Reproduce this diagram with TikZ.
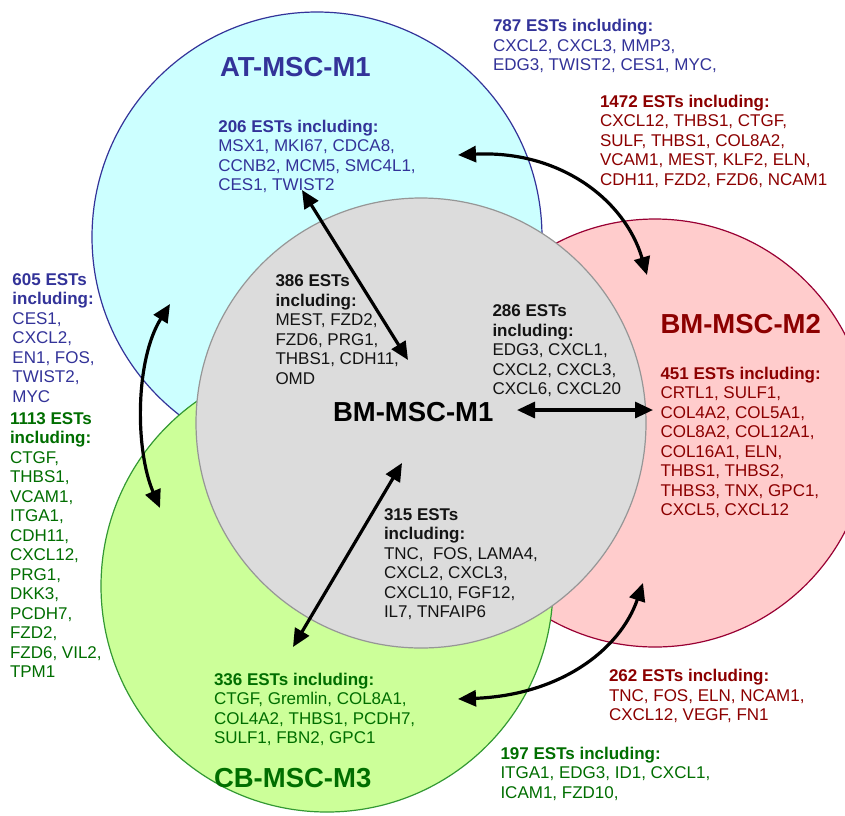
\documentclass[tikz,border=0pt]{standalone}
\usepackage{fontspec}
\setmainfont{Liberation Sans}
\usetikzlibrary{arrows.meta}
\definecolor{cyanfill}{RGB}{204,255,255}
\definecolor{cyanline}{RGB}{51,51,153}
\definecolor{pinkfill}{RGB}{255,204,204}
\definecolor{pinkline}{RGB}{153,0,51}
\definecolor{greenfill}{RGB}{204,255,153}
\definecolor{greenline}{RGB}{51,153,51}
\definecolor{grayfill}{RGB}{220,220,220}
\definecolor{grayline}{RGB}{150,150,150}
\definecolor{bluetxt}{RGB}{51,51,153}
\definecolor{redtxt}{RGB}{140,0,0}
\definecolor{greentxt}{RGB}{0,110,0}
\definecolor{blacktxt}{RGB}{20,20,20}
\newcommand{\fl}{\rule{0pt}{14pt}}
\begin{document}
\begin{tikzpicture}[x=1pt,y=-1pt,
  setcircle/.style={circle, inner sep=0pt, outer sep=0pt, line width=1.2pt},
  lbl/.style={anchor=north west, inner sep=0pt, outer sep=0pt, align=left,
              font=\fontsize{17}{19.5}\selectfont},
  bigtitle/.style={anchor=base west, inner sep=0pt, outer sep=0pt,
              font=\fontsize{27.5}{30}\selectfont\bfseries},
  dbl/.style={{Triangle[length=18pt,width=16pt]}-{Triangle[length=18pt,width=16pt]}, line width=3.2pt, black}
]
\useasboundingbox (0,0) rectangle (845,815);
\fill[white] (0,0) rectangle (845,815);
\begin{scope}
\clip (0,0) rectangle (845,815);
\node[setcircle, draw=cyanline, fill=cyanfill, minimum size=450pt] (atc) at (317,237) {};
\node[setcircle, draw=pinkline, fill=pinkfill, minimum size=428pt] (bm2c) at (655,433) {};
\node[setcircle, draw=greenline, fill=greenfill, minimum size=452pt] (cbc) at (327,586) {};
\node[setcircle, draw=grayline, fill=grayfill, minimum size=450pt] (bm1c) at (421,423) {};
\end{scope}

% titles
\node[bigtitle, text=bluetxt] (tat) at (220,76) {AT-MSC-M1};
\node[bigtitle, text=redtxt] (tbm2) at (660.5,333.5) {BM-MSC-M2};
\node[bigtitle, text=black] (tbm1) at (333,421.5) {BM-MSC-M1};
\node[bigtitle, text=greentxt] (tcb) at (214,787.5) {CB-MSC-M3};

% EST blocks (y = first baseline - 14)
\node[lbl, text=bluetxt] (l787) at (493,17.7) {\fl\textbf{787 ESTs including:}\\CXCL2, CXCL3, MMP3,\\EDG3, TWIST2, CES1, MYC,};
\node[lbl, text=redtxt] (l1472) at (600,93.3) {\fl\textbf{1472 ESTs including:}\\CXCL12, THBS1, CTGF,\\SULF, THBS1, COL8A2,\\VCAM1, MEST, KLF2, ELN,\\CDH11, FZD2, FZD6, NCAM1};
\node[lbl, text=bluetxt] (l206) at (218.3,118.3) {\fl\textbf{206 ESTs including:}\\MSX1, MKI67, CDCA8,\\CCNB2, MCM5, SMC4L1,\\CES1, TWIST2};
\node[lbl, text=bluetxt] (l605) at (12.5,271) {\fl\textbf{605 ESTs}\\\textbf{including:}\\CES1,\\CXCL2,\\EN1, FOS,\\TWIST2,\\MYC};
\node[lbl, text=greentxt] (l1113) at (10,410) {\fl\textbf{1113 ESTs}\\\textbf{including:}\\CTGF,\\THBS1,\\VCAM1,\\ITGA1,\\CDH11,\\CXCL12,\\PRG1,\\DKK3,\\PCDH7,\\FZD2,\\FZD6, VIL2,\\TPM1};
\node[lbl, text=blacktxt] (l386) at (275.5,272.7) {\fl\textbf{386 ESTs}\\\textbf{including:}\\MEST, FZD2,\\FZD6, PRG1,\\THBS1, CDH11,\\OMD};
\node[lbl, text=blacktxt] (l286) at (492.5,302.7) {\fl\textbf{286 ESTs}\\\textbf{including:}\\EDG3, CXCL1,\\CXCL2, CXCL3,\\CXCL6, CXCL20};
\node[lbl, text=redtxt] (l451) at (660.5,365) {\fl\textbf{451 ESTs including:}\\CRTL1, SULF1,\\COL4A2, COL5A1,\\COL8A2, COL12A1,\\COL16A1, ELN,\\THBS1, THBS2,\\THBS3, TNX, GPC1,\\CXCL5, CXCL12};
\node[lbl, text=blacktxt] (l315) at (384,506) {\fl\textbf{315 ESTs}\\\textbf{including:}\\TNC,\ \ FOS, LAMA4,\\CXCL2, CXCL3,\\CXCL10, FGF12,\\IL7, TNFAIP6};
\node[lbl, text=greentxt] (l336) at (214,671) {\fl\textbf{336 ESTs including:}\\CTGF, Gremlin, COL8A1,\\COL4A2, THBS1, PCDH7,\\SULF1, FBN2, GPC1};
\node[lbl, text=redtxt] (l262) at (609,667.7) {\fl\textbf{262 ESTs including:}\\TNC, FOS, ELN, NCAM1,\\CXCL12, VEGF, FN1};
\node[lbl, text=greentxt] (l197) at (500.5,745.3) {\fl\textbf{197 ESTs including:}\\ITGA1, EDG3, ID1, CXCL1,\\ICAM1, FZD10,};

% arrow end points
\coordinate (a1s) at (458,155);
\coordinate (a1e) at (647,275);
\coordinate (a2s) at (302,190);
\coordinate (a2e) at (408,360);
\coordinate (a3s) at (170,304);
\coordinate (a3e) at (160,508);
\coordinate (a4s) at (517,410);
\coordinate (a4e) at (653,410);
\coordinate (a5s) at (402,463);
\coordinate (a5e) at (293,647);
\coordinate (a6s) at (458,699);
\coordinate (a6e) at (643,583);

\draw[dbl] (a1s) .. controls (560,150) and (625,200) .. (a1e);
\draw[dbl] (a2s) -- (a2e);
\draw[dbl] (a3s) .. controls (135,360) and (135,450) .. (a3e);
\draw[dbl] (a4s) -- (a4e);
\draw[dbl] (a5s) -- (a5e);
\draw[dbl] (a6s) .. controls (560,695) and (620,650) .. (a6e);
\end{tikzpicture}
\end{document}
